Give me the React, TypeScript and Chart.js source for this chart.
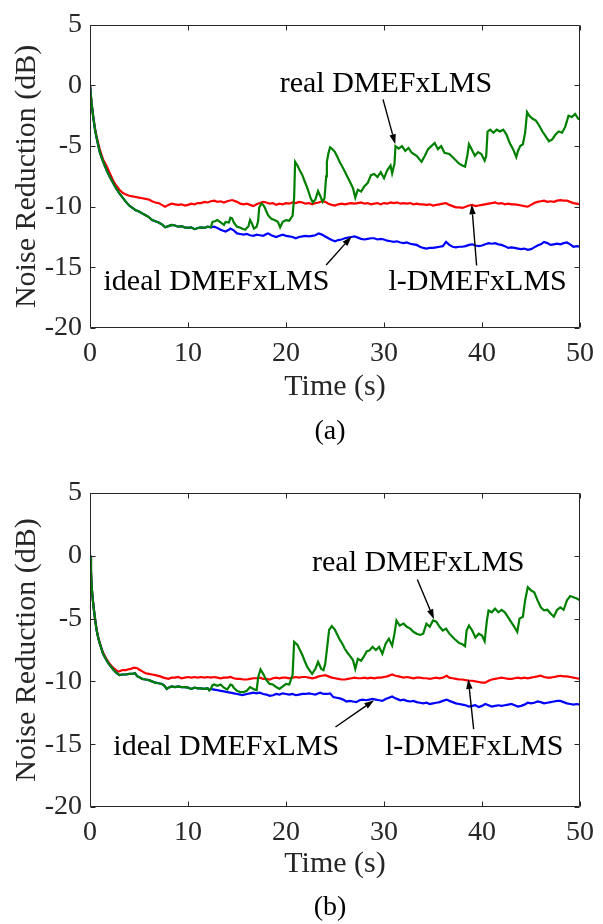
import React, { useEffect, useRef } from "react";
import { Chart, registerables } from "chart.js";

Chart.register(...registerables);

type Pt = [number, number];

// Axis ticks shared by both panels
const X_TICKS = [0, 10, 20, 30, 40, 50];
const Y_TICKS = [5, 0, -5, -10, -15, -20];
const X_MIN = 0;
const X_MAX = 50;
const Y_MIN = -20;
const Y_MAX = 5;

const LABEL_REAL = "real DMEFxLMS";
const LABEL_IDEAL = "ideal DMEFxLMS";
const LABEL_L = "l-DMEFxLMS";

// ---------- Panel (a) ----------
// ideal and real DMEFxLMS coincide until about 12.3 s
const aShared: Pt[] = [
  [0, 0], [0.15, -1.4], [0.33, -2.6], [0.5, -3.6], [0.67, -4.3], [0.85, -5.0], [1.0, -5.5],
  [1.25, -6.1], [1.5, -6.6], [1.75, -7.1], [2.0, -7.5], [2.33, -8.0], [2.67, -8.5], [3.0, -8.9],
  [3.33, -9.25], [3.67, -9.6], [4.0, -9.9], [4.33, -10.1], [4.67, -10.3], [5.0, -10.4],
  [5.33, -10.55], [5.67, -10.7], [6.0, -10.85], [6.33, -11.1], [6.67, -11.2], [7.0, -11.3],
  [7.33, -11.45], [7.67, -11.7], [8.0, -11.6], [8.33, -11.5], [8.67, -11.55], [9.0, -11.65],
  [9.33, -11.6], [9.67, -11.7], [10.0, -11.75], [10.33, -11.7], [10.67, -11.85], [11.0, -11.75],
  [11.33, -11.7], [11.67, -11.75], [12.0, -11.65], [12.33, -11.7],
];

const aIdealTail: Pt[] = [
  [12.67, -11.65], [13.0, -11.75], [13.33, -11.9], [13.67, -12.0], [13.83, -12.05], [14.17, -11.9],
  [14.33, -11.8], [14.67, -11.95], [15.0, -12.2], [15.33, -12.25], [15.67, -12.3], [16.0, -12.25],
  [16.33, -12.35], [16.67, -12.4], [17.0, -12.3], [17.33, -12.35], [17.67, -12.4], [18.0, -12.25],
  [18.17, -12.2], [18.5, -12.35], [19.0, -12.5], [19.33, -12.4], [19.67, -12.3], [20.0, -12.4],
  [20.33, -12.45], [20.67, -12.5], [21.0, -12.6], [21.33, -12.5], [21.67, -12.45], [22.0, -12.4],
  [22.33, -12.45], [22.67, -12.4], [23.0, -12.35], [23.33, -12.2], [23.67, -12.3], [24.0, -12.45],
  [24.33, -12.6], [24.67, -12.75], [25.0, -12.85], [25.33, -12.75], [25.67, -12.7], [26.0, -12.6],
  [26.33, -12.55], [26.67, -12.5], [27.0, -12.45], [27.33, -12.55], [27.67, -12.65], [28.0, -12.7],
  [28.33, -12.65], [28.67, -12.6], [29.0, -12.6], [29.33, -12.7], [29.67, -12.65], [30.0, -12.7],
  [30.33, -12.8], [30.67, -12.85], [31.0, -12.9], [31.33, -12.85], [31.67, -12.95], [32.0, -13.0],
  [32.33, -12.95], [32.67, -13.05], [33.0, -13.1], [33.33, -13.15], [33.67, -13.3], [34.0, -13.4],
  [34.33, -13.45], [34.67, -13.4], [35.0, -13.4], [35.33, -13.35], [35.67, -13.3], [36.0, -13.25],
  [36.33, -12.9], [36.67, -13.15], [37.0, -13.3], [37.33, -13.35], [37.67, -13.3], [38.0, -13.3],
  [38.33, -13.25], [38.67, -13.15], [39.0, -13.1], [39.33, -13.2], [39.67, -13.25], [40.0, -13.2],
  [40.33, -13.1], [40.67, -13.0], [41.0, -13.05], [41.33, -13.0], [41.67, -13.1], [42.0, -13.15],
  [42.33, -13.25], [42.67, -13.4], [43.0, -13.35], [43.33, -13.4], [43.67, -13.45], [44.0, -13.5],
  [44.33, -13.45], [44.67, -13.55], [45.0, -13.5], [45.33, -13.35], [45.67, -13.2], [46.0, -13.1],
  [46.33, -12.9], [46.67, -13.0], [47.0, -13.15], [47.33, -13.1], [47.67, -13.05], [48.0, -13.1],
  [48.33, -13.0], [48.67, -12.95], [49.0, -13.1], [49.33, -13.3], [49.67, -13.25], [50.0, -13.3],
];

const aRealTail: Pt[] = [
  [12.5, -11.25], [12.75, -11.2], [13.0, -11.1], [13.33, -11.3], [13.67, -11.5], [13.83, -11.25],
  [14.17, -11.3], [14.33, -10.9], [14.5, -10.95], [14.67, -11.3], [15.0, -11.65], [15.25, -11.7],
  [15.5, -11.8], [15.83, -11.9], [16.17, -11.6], [16.33, -11.1], [16.5, -11.35], [16.73, -11.8],
  [17.0, -11.65], [17.15, -11.2], [17.27, -10.05], [17.5, -9.75], [17.67, -9.85], [17.83, -10.05],
  [18.0, -10.4], [18.17, -10.7], [18.5, -11.0], [18.83, -11.1], [19.17, -11.25], [19.4, -11.7],
  [19.67, -11.25], [20.0, -11.1], [20.33, -11.15], [20.5, -10.95], [20.67, -10.75], [20.83, -9.25],
  [20.93, -6.3], [21.17, -6.6], [21.4, -7.0], [21.67, -7.4], [21.9, -7.9], [22.17, -8.45],
  [22.5, -9.25], [22.73, -9.65], [23.0, -9.4], [23.27, -8.7], [23.5, -9.1], [23.73, -9.6],
  [23.93, -9.3], [24.1, -7.5], [24.17, -6.3], [24.33, -5.6], [24.5, -5.1], [24.67, -5.2],
  [25.0, -5.5], [25.25, -5.9], [25.5, -6.35], [25.75, -6.7], [26.0, -7.1], [26.25, -7.5],
  [26.5, -7.9], [26.83, -8.45], [27.07, -9.25], [27.33, -8.6], [27.67, -8.75], [28.0, -8.3],
  [28.33, -8.05], [28.67, -7.4], [29.0, -7.3], [29.33, -7.55], [29.67, -7.15], [30.0, -7.65],
  [30.33, -7.0], [30.67, -6.6], [30.83, -7.25], [31.07, -6.45], [31.17, -5.0], [31.5, -5.2],
  [31.83, -5.0], [32.17, -5.4], [32.5, -5.15], [32.83, -5.55], [33.33, -5.8], [33.83, -6.3],
  [34.17, -5.8], [34.5, -5.25], [34.83, -5.0], [35.17, -4.75], [35.5, -5.25], [35.83, -5.0],
  [36.17, -5.55], [36.67, -5.65], [37.17, -6.05], [37.67, -6.45], [38.0, -6.6], [38.27, -6.7],
  [38.5, -5.8], [38.67, -4.85], [38.93, -5.25], [39.27, -5.8], [39.6, -5.5], [39.93, -5.65],
  [40.27, -6.2], [40.43, -5.8], [40.57, -3.8], [40.83, -3.65], [41.17, -3.9], [41.5, -3.65],
  [41.83, -3.8], [42.17, -3.65], [42.5, -4.05], [42.83, -4.75], [43.17, -5.25], [43.5, -5.9],
  [43.67, -5.4], [43.9, -5.0], [44.17, -4.85], [44.4, -3.9], [44.6, -2.2], [44.83, -2.5],
  [45.17, -2.75], [45.5, -2.9], [45.83, -3.3], [46.17, -3.8], [46.5, -4.2], [46.83, -4.6],
  [47.17, -4.45], [47.5, -4.05], [47.83, -3.8], [48.17, -3.9], [48.5, -3.4], [48.83, -2.5],
  [49.17, -2.6], [49.5, -2.35], [49.83, -2.75], [50.0, -2.8],
];

const aLeaky: Pt[] = [
  [0, 0], [0.15, -1.4], [0.33, -2.6], [0.5, -3.5], [0.67, -4.2], [0.85, -4.8], [1.0, -5.3],
  [1.33, -6.1], [1.67, -6.6], [2.0, -7.2], [2.33, -7.8], [2.67, -8.25], [3.0, -8.6], [3.33, -8.85],
  [3.67, -9.0], [4.0, -9.1], [4.33, -9.15], [4.67, -9.2], [5.0, -9.25], [5.33, -9.3], [5.67, -9.35],
  [6.0, -9.4], [6.33, -9.55], [6.67, -9.65], [7.0, -9.7], [7.33, -9.85], [7.67, -10.0], [8.0, -9.85],
  [8.33, -9.75], [8.67, -9.8], [9.0, -9.85], [9.33, -9.8], [9.67, -9.9], [10.0, -9.85], [10.33, -9.75],
  [10.67, -9.8], [11.0, -9.7], [11.33, -9.7], [11.67, -9.6], [12.0, -9.65], [12.33, -9.55],
  [12.67, -9.5], [13.0, -9.6], [13.33, -9.55], [13.67, -9.65], [14.0, -9.55], [14.5, -9.45],
  [15.0, -9.6], [15.33, -9.75], [15.67, -9.8], [16.0, -9.75], [16.33, -9.85], [16.67, -9.95],
  [17.0, -9.8], [17.33, -9.7], [17.67, -9.6], [18.0, -9.65], [18.33, -9.75], [18.67, -9.7],
  [19.0, -9.85], [19.33, -9.75], [19.67, -9.8], [20.0, -9.7], [20.33, -9.75], [20.67, -9.65],
  [21.0, -9.7], [21.33, -9.6], [21.67, -9.65], [22.0, -9.75], [22.33, -9.7], [22.67, -9.8],
  [23.0, -9.7], [23.33, -9.65], [23.67, -9.55], [24.0, -9.6], [24.33, -9.75], [24.67, -9.85],
  [25.0, -9.9], [25.33, -9.8], [25.67, -9.75], [26.0, -9.8], [26.33, -9.75], [26.67, -9.7],
  [27.0, -9.75], [27.33, -9.7], [27.67, -9.65], [28.0, -9.75], [28.33, -9.7], [28.67, -9.8],
  [29.0, -9.75], [29.33, -9.7], [29.67, -9.8], [30.0, -9.7], [30.33, -9.75], [30.67, -9.65],
  [31.0, -9.7], [31.33, -9.65], [31.67, -9.75], [32.0, -9.7], [32.33, -9.75], [32.67, -9.7],
  [33.0, -9.8], [33.33, -9.75], [33.67, -9.8], [34.0, -9.8], [34.33, -9.85], [34.67, -9.8],
  [35.0, -9.9], [35.33, -9.85], [35.67, -9.8], [36.0, -9.75], [36.33, -9.7], [36.67, -9.85],
  [37.0, -9.95], [37.33, -10.05], [37.67, -10.05], [38.0, -10.1], [38.33, -10.0], [38.67, -9.9],
  [39.0, -9.85], [39.33, -9.95], [39.67, -9.9], [40.0, -9.85], [40.33, -9.8], [40.67, -9.75],
  [41.0, -9.7], [41.33, -9.65], [41.67, -9.75], [42.0, -9.7], [42.33, -9.8], [42.67, -9.75],
  [43.0, -9.8], [43.33, -9.8], [43.67, -9.85], [44.0, -9.9], [44.33, -9.95], [44.67, -10.0],
  [45.0, -9.85], [45.33, -9.7], [45.67, -9.6], [46.0, -9.55], [46.33, -9.5], [46.67, -9.6],
  [47.0, -9.55], [47.33, -9.6], [47.67, -9.5], [48.0, -9.45], [48.33, -9.5], [48.67, -9.5],
  [49.0, -9.6], [49.33, -9.7], [49.67, -9.75], [50.0, -9.8],
];

// ---------- Panel (b) ----------
const bShared: Pt[] = [
  [0, 0], [0.1, -1.2], [0.17, -2.5], [0.3, -3.6], [0.4, -4.3], [0.53, -5.1], [0.67, -5.9],
  [0.83, -6.5], [1.0, -7.0], [1.17, -7.4], [1.33, -7.8], [1.5, -8.05], [1.67, -8.3], [1.92, -8.6],
  [2.17, -8.85], [2.42, -9.1], [2.67, -9.3], [3.0, -9.5], [3.33, -9.45], [3.67, -9.45], [4.0, -9.4],
  [4.33, -9.4], [4.6, -9.35], [4.83, -9.6], [5.0, -9.65], [5.33, -9.8], [5.67, -9.85], [6.0, -9.9],
  [6.33, -10.0], [6.67, -10.1], [7.0, -10.15], [7.33, -10.2], [7.6, -10.35], [7.83, -10.6],
  [8.0, -10.5], [8.33, -10.4], [8.67, -10.45], [9.0, -10.4], [9.33, -10.45], [9.67, -10.45],
  [10.0, -10.5], [10.33, -10.6], [10.67, -10.5], [11.0, -10.55], [11.33, -10.55], [11.67, -10.6],
  [12.0, -10.55], [12.17, -10.7], [12.33, -10.6],
];

const bIdealTail: Pt[] = [
  [12.67, -10.65], [13.0, -10.7], [13.33, -10.75], [13.67, -10.8], [14.0, -10.85], [14.33, -10.9],
  [14.67, -10.95], [15.0, -11.0], [15.33, -11.05], [15.5, -11.1], [15.75, -11.05], [16.0, -11.0],
  [16.33, -10.95], [16.67, -10.9], [17.0, -10.95], [17.33, -10.9], [17.67, -11.0], [18.0, -11.05],
  [18.33, -11.15], [18.67, -11.1], [19.0, -11.0], [19.33, -11.05], [19.67, -10.95], [20.0, -11.0],
  [20.33, -11.05], [20.67, -11.0], [21.0, -11.1], [21.33, -11.05], [21.67, -11.0], [22.0, -11.0],
  [22.33, -10.95], [22.67, -11.0], [23.0, -11.05], [23.33, -10.95], [23.5, -10.9], [23.83, -11.0],
  [24.17, -11.0], [24.5, -10.95], [24.83, -11.25], [25.17, -11.3], [25.5, -11.35], [25.83, -11.45],
  [26.17, -11.6], [26.5, -11.55], [26.83, -11.6], [27.17, -11.65], [27.5, -11.5], [27.83, -11.45],
  [28.17, -11.5], [28.5, -11.45], [28.83, -11.4], [29.17, -11.45], [29.5, -11.5], [29.83, -11.55],
  [30.17, -11.4], [30.5, -11.3], [30.83, -11.2], [31.17, -11.35], [31.5, -11.45], [31.67, -11.5],
  [32.0, -11.45], [32.33, -11.55], [32.67, -11.6], [33.0, -11.55], [33.33, -11.65], [33.67, -11.7],
  [34.0, -11.75], [34.33, -11.7], [34.67, -11.8], [35.0, -11.75], [35.33, -11.7], [35.67, -11.65],
  [36.0, -11.55], [36.4, -11.45], [36.67, -11.55], [37.0, -11.65], [37.33, -11.75], [37.67, -11.8],
  [38.0, -11.85], [38.33, -11.9], [38.67, -12.0], [39.0, -11.95], [39.33, -11.9], [39.67, -12.05],
  [40.0, -11.95], [40.33, -11.8], [40.67, -11.9], [41.0, -12.0], [41.33, -11.95], [41.67, -11.9],
  [42.0, -11.95], [42.33, -11.9], [42.67, -11.85], [43.0, -11.8], [43.33, -11.9], [43.67, -12.0],
  [44.0, -11.95], [44.33, -11.85], [44.67, -11.7], [45.0, -11.75], [45.33, -11.7], [45.67, -11.6],
  [46.0, -11.65], [46.33, -11.75], [46.67, -11.7], [47.0, -11.65], [47.33, -11.6], [47.67, -11.55],
  [48.0, -11.55], [48.33, -11.65], [48.67, -11.75], [49.0, -11.8], [49.33, -11.85], [49.67, -11.8],
  [50.0, -11.85],
];

const bRealTail: Pt[] = [
  [12.5, -10.3], [12.67, -10.25], [13.0, -10.35], [13.33, -10.25], [13.67, -10.5], [14.0, -10.65],
  [14.33, -10.25], [14.5, -10.3], [14.67, -10.5], [15.0, -10.75], [15.33, -10.85], [15.67, -10.85],
  [16.0, -10.75], [16.33, -10.45], [16.67, -10.6], [17.0, -10.7], [17.17, -9.65], [17.4, -9.05],
  [17.67, -9.4], [18.0, -9.9], [18.33, -10.2], [18.67, -10.25], [19.0, -10.45], [19.33, -10.6],
  [19.67, -10.4], [20.0, -10.2], [20.33, -10.25], [20.67, -9.5], [20.83, -6.85], [21.17, -7.1],
  [21.42, -7.5], [21.67, -7.9], [21.92, -8.4], [22.17, -8.85], [22.42, -9.15], [22.67, -9.4],
  [23.0, -9.0], [23.27, -8.45], [23.6, -9.0], [23.83, -9.1], [24.0, -8.6], [24.17, -7.5],
  [24.4, -5.9], [24.67, -5.6], [25.0, -5.9], [25.25, -6.3], [25.5, -6.7], [25.75, -7.0],
  [26.0, -7.4], [26.25, -7.7], [26.5, -7.95], [26.83, -8.3], [27.07, -9.0], [27.33, -8.2],
  [27.67, -8.35], [28.0, -7.95], [28.25, -7.6], [28.5, -7.55], [28.83, -7.25], [29.17, -7.5],
  [29.5, -7.25], [29.83, -7.8], [30.17, -7.0], [30.5, -6.6], [30.83, -7.15], [31.07, -6.2],
  [31.27, -5.15], [31.6, -5.55], [32.0, -5.4], [32.33, -5.65], [32.67, -5.8], [33.0, -6.05],
  [33.33, -6.2], [33.67, -6.3], [34.0, -6.2], [34.33, -5.4], [34.67, -5.65], [35.0, -5.15],
  [35.33, -5.25], [35.67, -5.65], [36.0, -5.95], [36.33, -5.8], [36.67, -6.2], [37.17, -6.6],
  [37.67, -6.95], [38.0, -7.05], [38.27, -7.2], [38.43, -5.95], [38.67, -5.55], [39.0, -5.95],
  [39.33, -6.5], [39.67, -6.2], [40.0, -6.35], [40.27, -6.8], [40.5, -5.15], [40.67, -4.35],
  [41.0, -4.5], [41.33, -4.2], [41.67, -4.5], [42.0, -4.3], [42.33, -4.5], [42.67, -4.9],
  [43.0, -5.3], [43.33, -5.7], [43.6, -6.05], [43.83, -5.0], [44.17, -4.85], [44.4, -3.55],
  [44.67, -2.5], [45.0, -2.75], [45.33, -2.9], [45.67, -3.55], [46.0, -4.1], [46.33, -4.35],
  [46.67, -4.3], [47.0, -4.6], [47.33, -4.85], [47.67, -4.3], [48.0, -4.1], [48.33, -4.3],
  [48.67, -3.55], [49.0, -3.2], [49.33, -3.3], [49.67, -3.4], [50.0, -3.55],
];

const bLeaky: Pt[] = [
  [0, 0], [0.1, -1.2], [0.17, -2.5], [0.3, -3.6], [0.4, -4.3], [0.53, -5.1], [0.67, -5.85],
  [0.83, -6.45], [1.0, -6.95], [1.17, -7.35], [1.33, -7.7], [1.5, -7.95], [1.67, -8.2], [1.92, -8.5],
  [2.17, -8.75], [2.42, -8.95], [2.67, -9.1], [2.83, -9.2], [3.0, -9.2], [3.33, -9.1], [3.67, -9.1],
  [3.83, -9.05], [4.17, -9.0], [4.5, -8.9], [4.83, -8.95], [5.0, -9.05], [5.33, -9.2], [5.67, -9.35],
  [6.0, -9.4], [6.33, -9.45], [6.67, -9.5], [7.17, -9.6], [7.5, -9.7], [8.0, -9.8], [8.33, -9.7],
  [8.67, -9.7], [9.0, -9.65], [9.33, -9.75], [9.67, -9.7], [10.0, -9.65], [10.33, -9.7],
  [10.67, -9.65], [11.0, -9.7], [11.33, -9.65], [11.67, -9.7], [12.0, -9.65], [12.33, -9.7],
  [12.67, -9.65], [13.0, -9.7], [13.33, -9.75], [13.67, -9.7], [14.0, -9.7], [14.33, -9.65],
  [14.67, -9.75], [15.0, -9.8], [15.33, -9.8], [15.67, -9.85], [16.0, -9.85], [16.33, -9.8],
  [16.67, -9.75], [17.0, -9.75], [17.33, -9.7], [17.67, -9.8], [18.0, -9.8], [18.33, -9.85],
  [18.67, -9.75], [19.0, -9.7], [19.33, -9.75], [19.67, -9.7], [20.0, -9.7], [20.33, -9.75],
  [20.67, -9.7], [21.0, -9.65], [21.33, -9.7], [21.67, -9.65], [22.0, -9.65], [22.33, -9.7],
  [22.67, -9.75], [23.0, -9.7], [23.33, -9.6], [23.67, -9.55], [24.0, -9.5], [24.33, -9.6],
  [24.67, -9.7], [25.0, -9.75], [25.33, -9.8], [25.67, -9.85], [26.0, -9.85], [26.33, -9.8],
  [26.67, -9.75], [27.0, -9.7], [27.33, -9.75], [27.67, -9.75], [28.0, -9.7], [28.33, -9.75],
  [28.67, -9.7], [29.0, -9.75], [29.33, -9.7], [29.67, -9.7], [30.0, -9.65], [30.33, -9.6],
  [30.83, -9.45], [31.17, -9.55], [31.5, -9.6], [32.0, -9.7], [32.33, -9.65], [32.67, -9.7],
  [33.0, -9.75], [33.33, -9.7], [33.67, -9.7], [34.0, -9.75], [34.33, -9.75], [34.67, -9.8],
  [35.0, -9.75], [35.33, -9.7], [35.67, -9.75], [36.0, -9.7], [36.4, -9.55], [36.67, -9.7],
  [37.0, -9.75], [37.33, -9.8], [37.67, -9.85], [38.0, -9.85], [38.33, -9.9], [38.67, -9.95],
  [39.0, -9.95], [39.33, -10.0], [39.67, -10.05], [40.0, -10.1], [40.33, -10.1], [40.67, -9.95],
  [41.0, -9.85], [41.33, -9.8], [41.67, -9.75], [42.0, -9.7], [42.33, -9.75], [42.67, -9.8],
  [43.0, -9.8], [43.33, -9.75], [43.67, -9.7], [44.0, -9.75], [44.33, -9.7], [44.67, -9.75],
  [45.0, -9.7], [45.33, -9.65], [45.67, -9.6], [46.0, -9.55], [46.33, -9.65], [46.67, -9.7],
  [47.0, -9.7], [47.33, -9.65], [47.67, -9.6], [48.0, -9.55], [48.33, -9.6], [48.67, -9.6],
  [49.0, -9.65], [49.33, -9.7], [49.67, -9.75], [50.0, -9.8],
];

// Callouts: text centre and arrow (from -> tip), all in data units
type Callout = { text: string; at: Pt; from: Pt; tip: Pt };

const aCallouts: Callout[] = [
  { text: LABEL_REAL, at: [30.2, 0.1], from: [29.9, -1.15], tip: [31.15, -4.85] },
  { text: LABEL_IDEAL, at: [12.9, -16.25], from: [24.1, -14.8], tip: [26.7, -12.45] },
  { text: LABEL_L, at: [39.55, -16.25], from: [39.45, -14.85], tip: [38.95, -9.8] },
];

const bCallouts: Callout[] = [
  { text: LABEL_REAL, at: [33.5, -0.62], from: [33.4, -1.88], tip: [35.1, -5.05] },
  { text: LABEL_IDEAL, at: [13.9, -15.2], from: [25.05, -13.63], tip: [29.0, -11.5] },
  { text: LABEL_L, at: [39.2, -15.2], from: [39.15, -13.8], tip: [38.6, -9.8] },
];

const SERIF = "'Liberation Serif', 'Times New Roman', serif";
const AXIS_COLOR = "#262626";
const LINE_W = 2.2;

const toXY = (pts: Pt[]) => pts.map(([x, y]) => ({ x, y }));

type PanelProps = {
  caption: string;
  real: Pt[];
  ideal: Pt[];
  leaky: Pt[];
  callouts: Callout[];
  padTop: number;
  axisHeight: number;
  titleGap: number;
  captionY: number;
};

const W = 603;
const H = 462;

function Panel(props: PanelProps) {
  const ref = useRef<HTMLCanvasElement | null>(null);

  useEffect(() => {
    const canvas = ref.current;
    if (!canvas) return;

    const frame = {
      id: "frameAndCallouts",
      afterDatasetsDraw(chart: any) {
        const { ctx, chartArea: ca, scales } = chart;
        const xs = scales.x;
        const ys = scales.y;
        ctx.save();

        // box with inward ticks on all four sides
        ctx.strokeStyle = AXIS_COLOR;
        ctx.lineWidth = 1;
        const l = Math.round(ca.left) + 0.5;
        const r = Math.round(ca.right) - 0.5;
        const t = Math.round(ca.top) + 0.5;
        const b = Math.round(ca.bottom) - 0.5;
        ctx.beginPath();
        ctx.rect(l, t, r - l, b - t);
        const tl = 5;
        for (const v of X_TICKS) {
          const px = Math.round(xs.getPixelForValue(v)) + 0.5;
          ctx.moveTo(px, b);
          ctx.lineTo(px, b - tl);
          ctx.moveTo(px, t);
          ctx.lineTo(px, t + tl);
        }
        for (const v of Y_TICKS) {
          const py = Math.round(ys.getPixelForValue(v)) + 0.5;
          ctx.moveTo(l, py);
          ctx.lineTo(l + tl, py);
          ctx.moveTo(r, py);
          ctx.lineTo(r - tl, py);
        }
        ctx.stroke();

        // callouts
        ctx.fillStyle = "#000";
        ctx.strokeStyle = "#000";
        ctx.font = `30px ${SERIF}`;
        ctx.textAlign = "center";
        ctx.textBaseline = "middle";
        for (const c of props.callouts) {
          ctx.fillText(c.text, xs.getPixelForValue(c.at[0]), ys.getPixelForValue(c.at[1]));
          const x0 = xs.getPixelForValue(c.from[0]);
          const y0 = ys.getPixelForValue(c.from[1]);
          const x1 = xs.getPixelForValue(c.tip[0]);
          const y1 = ys.getPixelForValue(c.tip[1]);
          const ang = Math.atan2(y1 - y0, x1 - x0);
          const hl = 10;
          const hw = 3.2;
          const bx = x1 - hl * Math.cos(ang);
          const by = y1 - hl * Math.sin(ang);
          ctx.lineWidth = 1.4;
          ctx.beginPath();
          ctx.moveTo(x0, y0);
          ctx.lineTo(bx, by);
          ctx.stroke();
          ctx.beginPath();
          ctx.moveTo(x1, y1);
          ctx.lineTo(bx + hw * Math.sin(ang), by - hw * Math.cos(ang));
          ctx.lineTo(bx - hw * Math.sin(ang), by + hw * Math.cos(ang));
          ctx.closePath();
          ctx.fill();
        }

        // panel caption
        ctx.fillStyle = "#000";
        ctx.font = `28px ${SERIF}`;
        ctx.fillText(props.caption, 330, props.captionY);
        ctx.restore();
      },
    };

    const chart = new Chart(canvas, {
      type: "line",
      data: {
        datasets: [
          {
            label: LABEL_REAL,
            data: toXY(props.real),
            borderColor: "#008000",
            borderWidth: LINE_W,
            pointRadius: 0,
            tension: 0,
          },
          {
            label: LABEL_IDEAL,
            data: toXY(props.ideal),
            borderColor: "#0000ff",
            borderWidth: LINE_W,
            pointRadius: 0,
            tension: 0,
          },
          {
            label: LABEL_L,
            data: toXY(props.leaky),
            borderColor: "#ff0000",
            borderWidth: LINE_W,
            pointRadius: 0,
            tension: 0,
          },
        ],
      },
      options: {
        responsive: false,
        animation: false,
        devicePixelRatio: 1,
        layout: { padding: { top: props.padTop, right: 13, left: 0, bottom: 0 } },
        plugins: {
          legend: { display: false },
          tooltip: { enabled: false },
        },
        scales: {
          x: {
            type: "linear",
            min: X_MIN,
            max: X_MAX,
            afterFit: (s: any) => {
              s.height = props.axisHeight;
            },
            afterBuildTicks: (s: any) => {
              s.ticks = X_TICKS.map((v) => ({ value: v }));
            },
            grid: { display: false, drawTicks: false },
            border: { display: false },
            ticks: {
              padding: 9,
              maxRotation: 0,
              color: AXIS_COLOR,
              font: { family: SERIF, size: 28 },
              callback: (v: any) => String(v),
            },
            title: {
              display: true,
              text: "Time (s)",
              color: AXIS_COLOR,
              font: { family: SERIF, size: 30 },
              padding: { top: 0, bottom: props.titleGap },
            },
          },
          y: {
            type: "linear",
            min: Y_MIN,
            max: Y_MAX,
            afterFit: (s: any) => {
              s.width = 90;
            },
            afterBuildTicks: (s: any) => {
              s.ticks = Y_TICKS.map((v) => ({ value: v }));
            },
            grid: { display: false, drawTicks: false },
            border: { display: false },
            ticks: {
              padding: 8,
              color: AXIS_COLOR,
              font: { family: SERIF, size: 28 },
              callback: (v: any) => String(v),
            },
            title: {
              display: true,
              text: "Noise Reduction (dB)",
              color: AXIS_COLOR,
              font: { family: SERIF, size: 30 },
              padding: { top: 9, bottom: 0 },
            },
          },
        },
      },
      plugins: [frame],
    });

    return () => chart.destroy();
  }, [props]);

  return (
    <canvas
      ref={ref}
      width={W}
      height={H}
      style={{ display: "block", width: W, height: H }}
    />
  );
}

const panelA: PanelProps = {
  caption: "(a)",
  real: [...aShared, ...aRealTail],
  ideal: [...aShared, ...aIdealTail],
  leaky: aLeaky,
  callouts: aCallouts,
  padTop: 15,
  axisHeight: 134,
  titleGap: 57,
  captionY: 432,
};

const panelB: PanelProps = {
  caption: "(b)",
  real: [...bShared, ...bRealTail],
  ideal: [...bShared, ...bIdealTail],
  leaky: bLeaky,
  callouts: bCallouts,
  padTop: 31,
  axisHeight: 117,
  titleGap: 42,
  captionY: 446,
};

export default function App() {
  return (
    <div
      style={{
        position: "absolute",
        top: 0,
        left: 0,
        width: W,
        height: 2 * H,
        background: "#fff",
      }}
    >
      <Panel {...panelA} />
      <Panel {...panelB} />
    </div>
  );
}
